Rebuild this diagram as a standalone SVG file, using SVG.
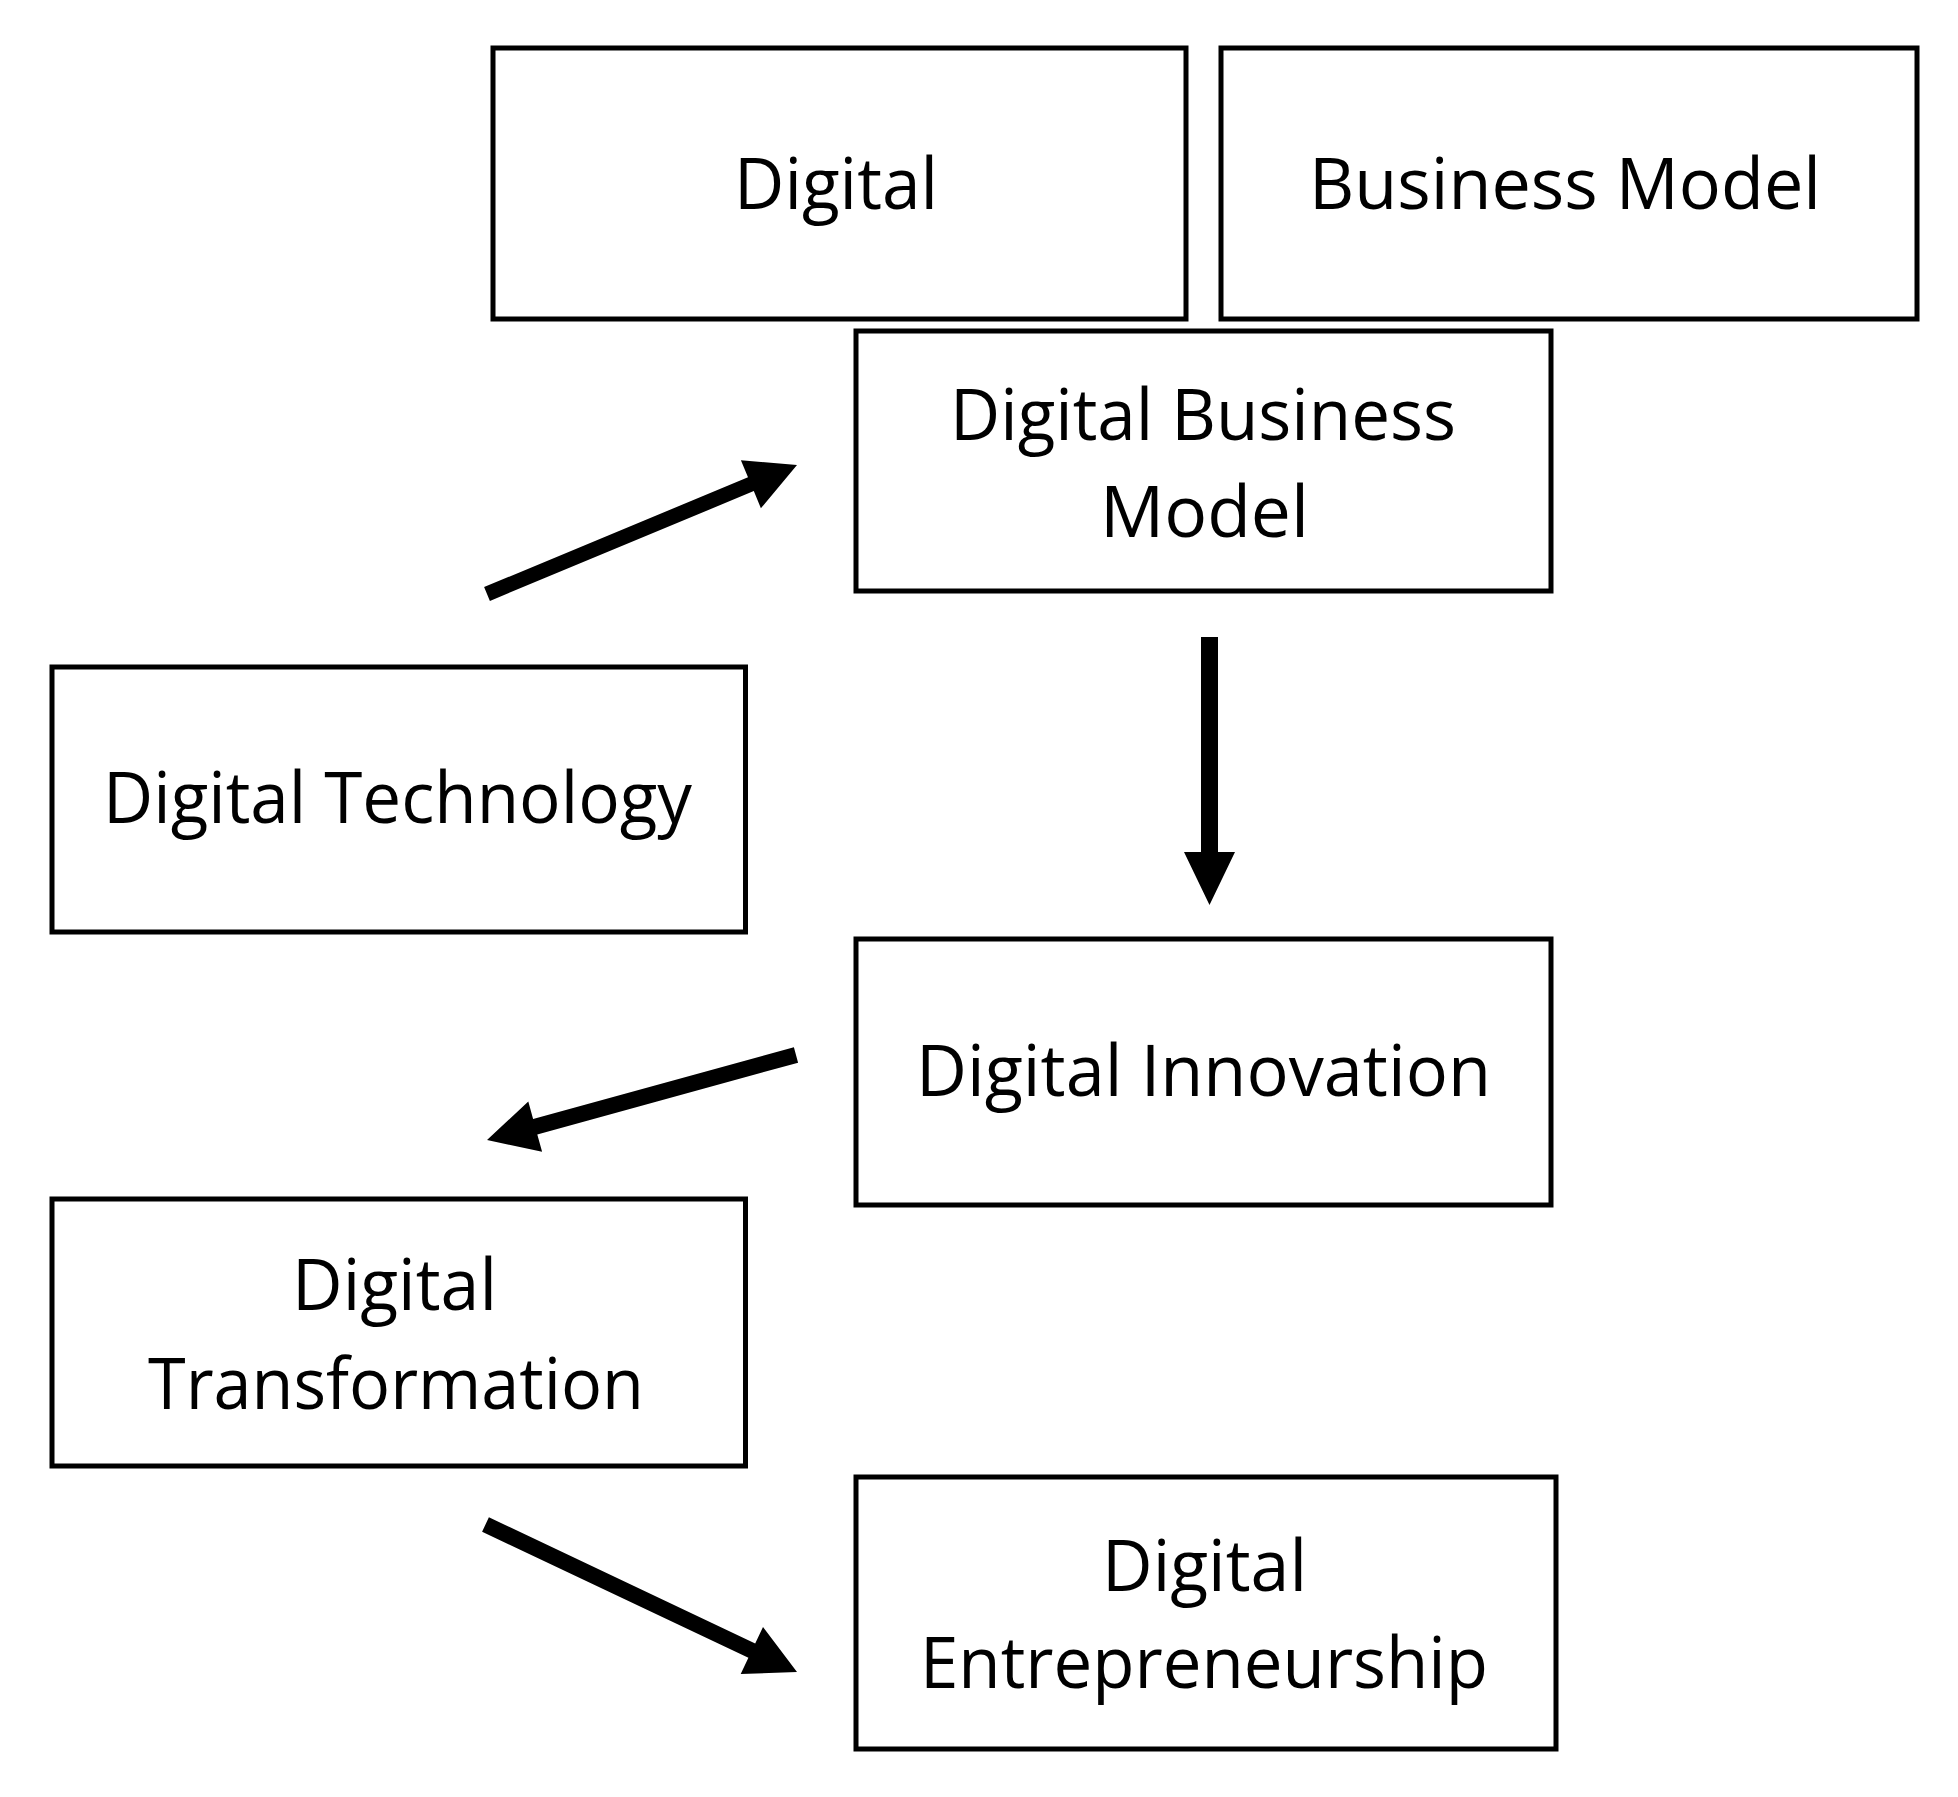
<svg xmlns="http://www.w3.org/2000/svg" width="1958" height="1797" viewBox="0 0 1958 1797">
<style>
  .box { fill: #ffffff; stroke: #000000; stroke-width: 5; }
  .lbl { font-family: "Open Sans", "Noto Sans", "Liberation Sans", sans-serif; font-size: 72px; fill: #000000; text-anchor: middle; }
  .arrow { fill: #000000; stroke: none; }
</style>
<rect x="0" y="0" width="1958" height="1797" fill="#ffffff"/>
<g id="node-digital">
  <rect class="box" x="493" y="48" width="693" height="271"/>
  <text class="lbl" x="836" y="209" textLength="204" lengthAdjust="spacingAndGlyphs">Digital</text>
</g>
<g id="node-business-model">
  <rect class="box" x="1221" y="48" width="696" height="271"/>
  <text class="lbl" x="1565" y="209" textLength="512" lengthAdjust="spacingAndGlyphs">Business Model</text>
</g>
<g id="node-digital-business-model">
  <rect class="box" x="856" y="331" width="695" height="260"/>
  <text class="lbl" x="1203" y="440" textLength="506" lengthAdjust="spacingAndGlyphs">Digital Business</text>
  <text class="lbl" x="1204.5" y="537" textLength="209" lengthAdjust="spacingAndGlyphs">Model</text>
</g>
<g id="node-digital-technology">
  <rect class="box" x="52" y="667" width="693.5" height="265"/>
  <text class="lbl" x="397.5" y="823" textLength="589" lengthAdjust="spacingAndGlyphs">Digital Technology</text>
</g>
<g id="node-digital-innovation">
  <rect class="box" x="856" y="939" width="695" height="266"/>
  <text class="lbl" x="1203.5" y="1096" textLength="575" lengthAdjust="spacingAndGlyphs">Digital Innovation</text>
</g>
<g id="node-digital-transformation">
  <rect class="box" x="52" y="1199" width="693.5" height="267"/>
  <text class="lbl" x="394.5" y="1310" textLength="205" lengthAdjust="spacingAndGlyphs">Digital</text>
  <text class="lbl" x="396" y="1409" textLength="496" lengthAdjust="spacingAndGlyphs">Transformation</text>
</g>
<g id="node-digital-entrepreneurship">
  <rect class="box" x="856" y="1477" width="700" height="272"/>
  <text class="lbl" x="1204.5" y="1591" textLength="205" lengthAdjust="spacingAndGlyphs">Digital</text>
  <text class="lbl" x="1204" y="1688" textLength="568" lengthAdjust="spacingAndGlyphs">Entrepreneurship</text>
</g>
<g id="connectors">
  <polygon class="arrow" points="484.1,587.1 748.0,477.3 740.9,460.2 797,465 760.9,508.2 753.8,491.1 489.9,600.9"/>
  <polygon class="arrow" points="1201,637 1218,637 1218,852 1235,852 1209.5,905 1184,852 1201,852"/>
  <polygon class="arrow" points="793.9,1047.3 533.1,1119.0 528.3,1101.6 487,1140 542.1,1151.8 537.3,1134.4 798.1,1062.7"/>
  <polygon class="arrow" points="488.9,1517.3 755.2,1643.4 763.0,1627.1 797,1672 740.7,1674.1 748.4,1657.8 482.1,1531.7"/>
</g>
</svg>
